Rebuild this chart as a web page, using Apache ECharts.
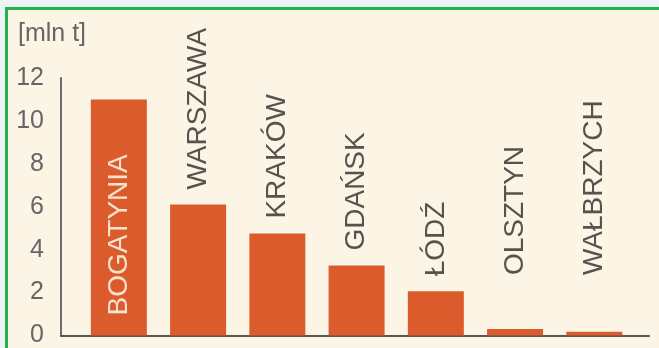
<!DOCTYPE html>
<html>
<head>
<meta charset="utf-8">
<script src="https://cdn.jsdelivr.net/npm/echarts@6/dist/echarts.min.js"></script>
<style>
  html, body { margin: 0; padding: 0; }
  #wrap { position: relative; width: 659px; height: 348px; background: #eef3f7; overflow: hidden; }
  #panel { position: absolute; left: 5px; top: 7px; right: 0; bottom: 0;
           background: #fcf4e4; border-left: 3px solid #1fb44b; border-top: 3px solid #1fb44b; }
  #chart { position: absolute; left: 0; top: 0; width: 659px; height: 348px; }
</style>
</head>
<body>
<div id="wrap">
  <div id="panel"></div>
  <div id="chart"></div>
</div>
<script>
// Cities and their annual amounts, in million tonnes
const cities = ['BOGATYNIA', 'WARSZAWA', 'KRAKÓW', 'GDAŃSK', 'ŁÓDŹ', 'OLSZTYN', 'WAŁBRZYCH'];
const amounts = [11, 6.1, 4.75, 3.26, 2.06, 0.3, 0.17];
const yTicks = [0, 2, 4, 6, 8, 10, 12];
const unitLabel = '[mln t]';

const barColor = '#dc5b2d';
const textColor = '#555350';
const fontFamily = 'Liberation Sans, Arial, sans-serif';

// Label placement: the tallest bar carries its name inside, the rest above;
// very short bars lift their names to keep them clear of the baseline.
function labelFor(i, v) {
  const base = {
    show: true, rotate: 90, align: 'left', verticalAlign: 'middle',
    fontFamily: fontFamily, fontSize: 28,
    formatter: () => cities[i]
  };
  if (i === 0) {
    return Object.assign(base, { position: 'insideBottom', distance: 20, color: '#f9e2cc' });
  }
  const lift = v < 1 ? 54 + (0.3 - v) * 21.7 : 15;
  return Object.assign(base, { position: 'top', distance: lift, color: textColor });
}

const barData = amounts.map((v, i) => ({ value: [i, v], label: labelFor(i, v) }));

const chart = echarts.init(document.getElementById('chart'), null, { renderer: 'canvas' });
chart.setOption({
  backgroundColor: 'transparent',
  animation: false,
  title: {
    text: unitLabel, left: 13, top: 17,
    textStyle: { fontFamily: fontFamily, fontSize: 25, fontWeight: 'normal', color: '#666' }
  },
  grid: { left: 61, right: 10, top: 78, bottom: 10 },
  xAxis: {
    type: 'value', min: -0.73, max: 6.69,
    axisLine: { show: true, onZero: false, lineStyle: { color: '#555', width: 2 } },
    axisTick: { show: false }, axisLabel: { show: false }, splitLine: { show: false }
  },
  yAxis: {
    type: 'value', min: yTicks[0], max: yTicks[yTicks.length - 1], interval: 2,
    axisLine: { show: true, onZero: false, lineStyle: { color: '#6e6e6e', width: 2 } },
    axisTick: { show: false }, splitLine: { show: false },
    axisLabel: {
      margin: 17, fontFamily: fontFamily, fontSize: 25, color: '#666',
      formatter: v => yTicks.includes(v) ? String(v) : ''
    }
  },
  series: [{
    type: 'bar',
    barWidth: 56,
    itemStyle: { color: barColor },
    data: barData
  }]
});
</script>
</body>
</html>
